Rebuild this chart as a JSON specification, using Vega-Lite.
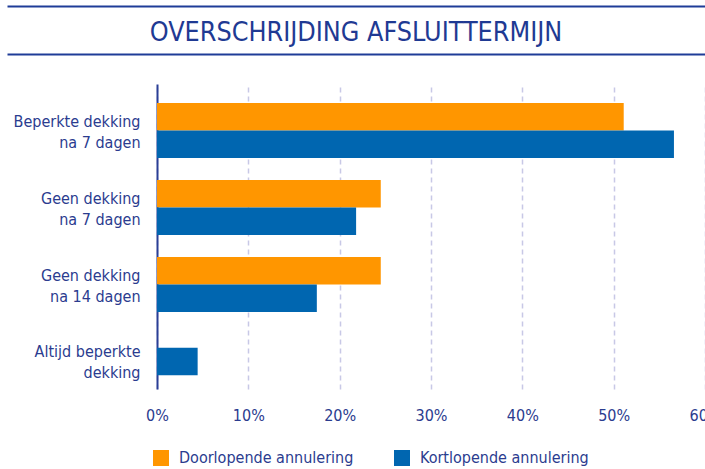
{
  "$schema": "https://vega.github.io/schema/vega-lite/v6.json",
  "padding": {"left": 7, "top": 6, "right": 0, "bottom": 0},
  "spacing": 30,
  "config": {
    "view": {"stroke": null},
    "font": "DejaVu Sans Condensed, Roboto, sans-serif"
  },
  "vconcat": [
    {
      "width": 548,
      "height": 48,
      "data": {"values": [{"titel": "OVERSCHRIJDING AFSLUITTERMIJN"}]},
      "encoding": {
        "y": {"datum": 0.5, "type": "quantitative", "scale": {"domain": [0, 1]}, "axis": null}
      },
      "layer": [
        {
          "mark": {"type": "text", "font": "DejaVu Sans Condensed, Roboto, sans-serif", "fontSize": 26.7, "color": "#1f3a93", "baseline": "middle", "dy": 3},
          "encoding": {
            "x": {"datum": 0.5, "type": "quantitative", "scale": {"domain": [0, 1], "range": [-150, 548]},
              "axis": {"orient": "top", "domainColor": "#1f3c98", "domainWidth": 2, "ticks": false, "labels": false, "grid": false, "title": null}},
            "text": {"field": "titel"}
          }
        },
        {
          "mark": {"type": "text"},
          "encoding": {
            "x": {"datum": 0.5, "type": "quantitative",
              "axis": {"orient": "bottom", "domainColor": "#1f3c98", "domainWidth": 2, "ticks": false, "labels": false, "grid": false, "title": null}},
            "text": {"value": ""}
          }
        }
      ],
      "resolve": {"axis": {"x": "independent"}}
    },
    {
      "width": 548,
      "height": 305,
      "data": {"values": [
        {"categorie": "Beperkte dekking|na 7 dagen", "reeks": "Doorlopende annulering", "pct": 51.1},
        {"categorie": "Beperkte dekking|na 7 dagen", "reeks": "Kortlopende annulering", "pct": 56.6},
        {"categorie": "Geen dekking|na 7 dagen", "reeks": "Doorlopende annulering", "pct": 24.5},
        {"categorie": "Geen dekking|na 7 dagen", "reeks": "Kortlopende annulering", "pct": 21.8},
        {"categorie": "Geen dekking|na 14 dagen", "reeks": "Doorlopende annulering", "pct": 24.5},
        {"categorie": "Geen dekking|na 14 dagen", "reeks": "Kortlopende annulering", "pct": 17.5},
        {"categorie": "Altijd beperkte|dekking", "reeks": "Kortlopende annulering", "pct": 4.45}
      ]},
      "encoding": {
        "y": {
          "field": "categorie", "type": "nominal",
          "sort": ["Beperkte dekking|na 7 dagen", "Geen dekking|na 7 dagen", "Geen dekking|na 14 dagen", "Altijd beperkte|dekking"],
          "scale": {"paddingInner": 0.2857, "paddingOuter": 0.1234, "align": 1},
          "axis": {
            "title": null, "ticks": false, "domainColor": "#2a3f96", "domainWidth": 2,
            "labelExpr": "split(datum.label, '|')", "labelFontSize": 16, "labelLineHeight": 21,
            "labelColor": "#2b3c8f", "labelPadding": 17, "minExtent": 150, "labelOffset": -9
          }
        },
        "x": {
          "field": "pct", "type": "quantitative",
          "scale": {"domain": [0, 60], "nice": false},
          "axis": {
            "title": null, "values": [0, 10, 20, 30, 40, 50, 60], "labelExpr": "datum.value + '%'",
            "domain": false, "ticks": false, "grid": true, "gridColor": "#c8c8e6", "gridDash": [5, 4], "gridWidth": 1.5,
            "labelFontSize": 16, "labelColor": "#2b3c8f", "labelPadding": 18, "labelFlush": false
          }
        },
        "color": {
          "field": "reeks", "type": "nominal",
          "scale": {"domain": ["Doorlopende annulering", "Kortlopende annulering"], "range": ["#ff9600", "#0066b0"]},
          "legend": {
            "title": null, "orient": "none", "legendX": -4, "legendY": 444, "direction": "horizontal",
            "symbolType": "square", "symbolSize": 256, "symbolStrokeWidth": 0, "symbolOpacity": 1,
            "labelFontSize": 16, "labelColor": "#2b3c8f", "labelOffset": 10, "columnPadding": 40,
            "labelLimit": 400
          }
        }
      },
      "layer": [
        {
          "transform": [{"filter": "datum.categorie != 'Altijd beperkte|dekking'"}],
          "mark": {"type": "bar"},
          "encoding": {
            "yOffset": {"field": "reeks", "type": "nominal",
              "sort": ["Doorlopende annulering", "Kortlopende annulering"],
              "scale": {"paddingInner": 0, "paddingOuter": 0}}
          }
        },
        {
          "transform": [{"filter": "datum.categorie == 'Altijd beperkte|dekking'"}],
          "mark": {"type": "bar", "height": {"band": 0.5}},
          "encoding": {}
        }
      ]
    }
  ]
}
